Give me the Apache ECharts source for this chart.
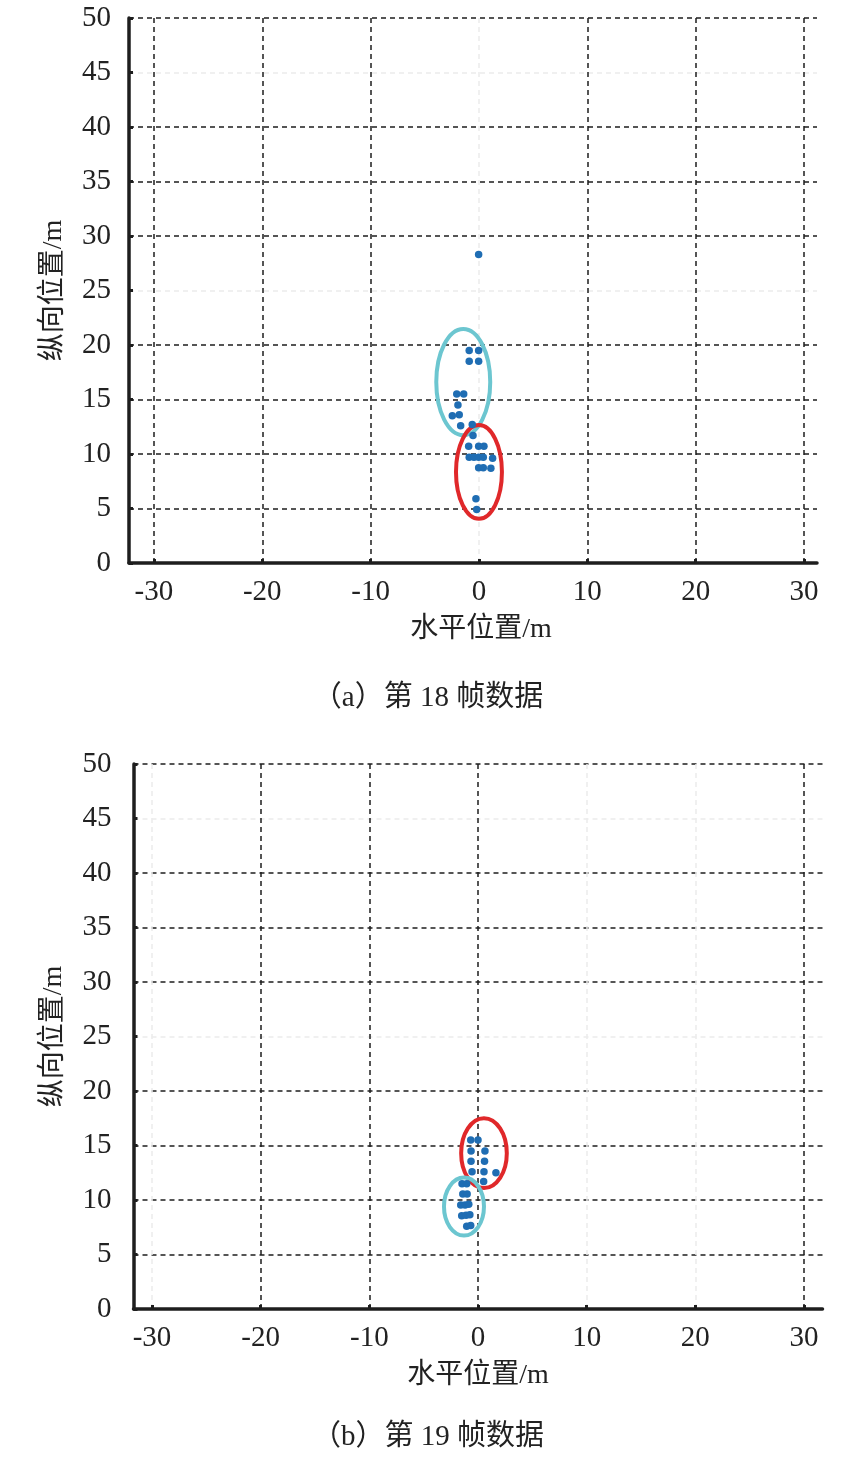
<!DOCTYPE html>
<html>
<head>
  <meta charset="UTF-8">
  <title>第18/19帧数据</title>
  <script src="https://cdn.jsdelivr.net/npm/echarts@6/dist/echarts.min.js"></script>
  <style>
    html, body { margin: 0; padding: 0; background: #fff; }
  </style>
</head>
<body>
  <div id="main" style="width: 851px; height: 1464px;"></div>

  <script>
    // 刻度
    var xTicks = [-30, -20, -10, 0, 10, 20, 30];
    var yTicks = [0, 5, 10, 15, 20, 25, 30, 35, 40, 45, 50];

    // 第18帧点云 [水平, 纵向]
    var frame18Points = [
      [-0.03, 28.3],
      [-0.9, 19.5], [-0.03, 19.5],
      [-0.9, 18.5], [-0.03, 18.5],
      [-2.05, 15.5], [-1.41, 15.5],
      [-1.94, 14.5],
      [-2.46, 13.5], [-1.82, 13.6],
      [-1.69, 12.6], [-0.62, 12.7],
      [-0.55, 11.7],
      [-0.95, 10.7], [-0.03, 10.7], [0.46, 10.7],
      [-0.9, 9.7], [-0.46, 9.7], [-0.03, 9.7], [0.4, 9.7], [1.26, 9.6],
      [-0.03, 8.75], [0.4, 8.75], [1.1, 8.7],
      [-0.28, 5.9],
      [-0.21, 4.9]
    ];

    // 第19帧点云
    var frame19Points = [
      [-0.67, 15.5], [0, 15.5],
      [-0.64, 14.5], [0.64, 14.5],
      [-0.64, 13.55], [0.6, 13.55],
      [-0.55, 12.6], [0.55, 12.6], [1.65, 12.5],
      [0.52, 11.7],
      [-1.47, 11.5], [-1.04, 11.5],
      [-1.4, 10.55], [-1.0, 10.55],
      [-1.59, 9.55], [-1.19, 9.55], [-0.85, 9.6],
      [-1.5, 8.55], [-1.1, 8.6], [-0.75, 8.65],
      [-1.04, 7.6], [-0.67, 7.65]
    ];

    // 聚类椭圆 [中心x, 中心y, 半轴x, 半轴y]
    var frame18Cyan = [[-1.45, 16.6, 2.49, 4.87]];
    var frame18Red = [[0.0, 8.35, 2.12, 4.3]];
    var frame19Red = [[0.55, 14.3, 2.1, 3.2]];
    var frame19Cyan = [[-1.29, 9.4, 1.84, 2.66]];

    var FONT = "'Liberation Serif', 'Noto Sans CJK SC', serif";
    var DARK = '#1e1e1e';
    var FAINT = '#ebebeb';

    function renderEllipse(params, api) {
      var c = api.coord([api.value(0), api.value(1)]);
      var s = api.size([api.value(2), api.value(3)]);
      return {
        type: 'ellipse',
        shape: { cx: c[0], cy: c[1], rx: s[0], ry: s[1] },
        style: { fill: 'none', stroke: api.visual('color'), lineWidth: 4 }
      };
    }

    function xAxisOf(idx, min, max, lineColors, namePad) {
      return {
        gridIndex: idx,
        type: 'value',
        min: min,
        max: max,
        name: '水平位置/m',
        nameLocation: 'middle',
        nameGap: 53,
        nameTextStyle: { fontFamily: FONT, fontSize: 28, color: '#222', padding: [0, 0, 0, namePad] },
        axisLine: { onZero: false, lineStyle: { color: DARK, width: 3.5 } },
        axisTick: { inside: true, length: 4, customValues: xTicks, lineStyle: { color: DARK, width: 3 } },
        axisLabel: { customValues: xTicks, margin: 15, fontFamily: FONT, fontSize: 29, color: '#222' },
        splitLine: { show: true, lineStyle: { color: lineColors, type: [5, 4], width: 1.5 } }
      };
    }

    function yAxisOf(idx, nameGap, margin) {
      return {
        gridIndex: idx,
        type: 'value',
        min: 0,
        max: 50,
        interval: 5,
        name: '纵向位置/m',
        nameLocation: 'middle',
        nameGap: nameGap,
        nameTextStyle: { fontFamily: FONT, fontSize: 28, color: '#222' },
        axisLine: { show: true, onZero: false, lineStyle: { color: DARK, width: 3.5 } },
        axisTick: { show: true, inside: true, length: 4, lineStyle: { color: DARK, width: 3 } },
        axisLabel: { margin: margin, fontFamily: FONT, fontSize: 29, color: '#222' },
        splitLine: {
          show: true,
          lineStyle: {
            color: [DARK, DARK, DARK, DARK, DARK, FAINT, DARK, DARK, DARK, FAINT, DARK],
            type: [5, 4],
            width: 1.5
          }
        }
      };
    }

    var chart = echarts.init(document.getElementById('main'));

    var option = {
      animation: false,
      backgroundColor: '#fff',
      grid: [
        { left: 129, top: 18, width: 688, height: 545 },
        { left: 133.5, top: 764, width: 689, height: 545 }
      ],
      xAxis: [
        xAxisOf(0, -32.3, 31.2, [DARK, DARK, DARK, FAINT, DARK, DARK, DARK], 16),
        xAxisOf(1, -31.7, 31.7, [FAINT, DARK, DARK, DARK, FAINT, FAINT, DARK], 0)
      ],
      yAxis: [
        yAxisOf(0, 61, 18),
        yAxisOf(1, 66, 22)
      ],
      graphic: [
        {
          type: 'text', x: 428, y: 698,
          style: { text: '（a）第 18 帧数据', font: '29px ' + FONT, fill: '#222', align: 'center', verticalAlign: 'middle' }
        },
        {
          type: 'text', x: 428, y: 1437,
          style: { text: '（b）第 19 帧数据', font: '29px ' + FONT, fill: '#222', align: 'center', verticalAlign: 'middle' }
        }
      ],
      series: [
        {
          type: 'scatter', xAxisIndex: 0, yAxisIndex: 0,
          data: frame18Points, symbolSize: 7.5,
          itemStyle: { color: '#1f6db3', opacity: 1 }
        },
        {
          type: 'custom', xAxisIndex: 0, yAxisIndex: 0,
          data: frame18Cyan, encode: { x: 0, y: 1 },
          itemStyle: { color: '#6cc6d0' }, renderItem: renderEllipse, clip: false
        },
        {
          type: 'custom', xAxisIndex: 0, yAxisIndex: 0,
          data: frame18Red, encode: { x: 0, y: 1 },
          itemStyle: { color: '#e0282a' }, renderItem: renderEllipse, clip: false
        },
        {
          type: 'scatter', xAxisIndex: 1, yAxisIndex: 1,
          data: frame19Points, symbolSize: 7.5,
          itemStyle: { color: '#1f6db3', opacity: 1 }
        },
        {
          type: 'custom', xAxisIndex: 1, yAxisIndex: 1,
          data: frame19Red, encode: { x: 0, y: 1 },
          itemStyle: { color: '#e0282a' }, renderItem: renderEllipse, clip: false
        },
        {
          type: 'custom', xAxisIndex: 1, yAxisIndex: 1,
          data: frame19Cyan, encode: { x: 0, y: 1 },
          itemStyle: { color: '#6cc6d0' }, renderItem: renderEllipse, clip: false
        }
      ]
    };

    chart.setOption(option);
  </script>
</body>
</html>
